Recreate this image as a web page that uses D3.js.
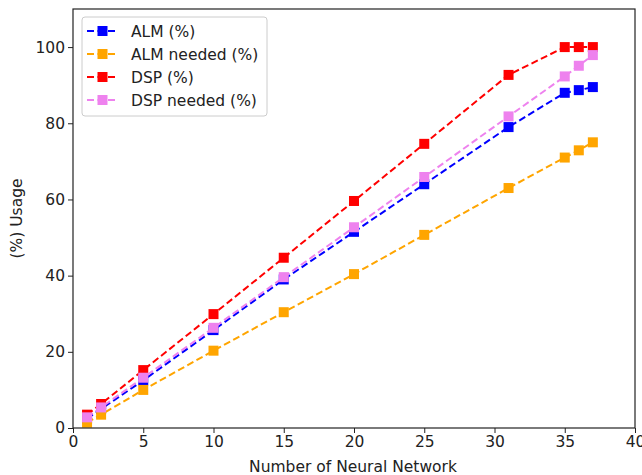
<!DOCTYPE html>
<html lang="en">
<head>
<meta charset="utf-8">
<title>Usage</title>
<script src="https://cdnjs.cloudflare.com/ajax/libs/d3/7.8.5/d3.min.js"></script>
<style>
  body { margin: 0; background: white; }
  svg { display: block; font-family: "DejaVu Sans", sans-serif; }
  .axis path, .axis line { stroke: #222; }
</style>
</head>
<body>
<script>
// data
var networks = [1, 2, 5, 10, 15, 20, 25, 31, 35, 36, 37];
var alm       = [2.5, 5, 12.5, 25.7, 39, 51.5, 64, 79, 88, 88.7, 89.5];
var almNeeded = [1.4, 3.5, 10, 20.3, 30.4, 40.4, 50.7, 63, 71, 72.9, 75];
var dsp       = [3.5, 6.3, 15.2, 29.9, 44.7, 59.6, 74.6, 92.7, 100, 100, 100];
var dspNeeded = [2.8, 5.4, 13.2, 26.3, 39.6, 52.7, 65.9, 81.8, 92.3, 95.1, 97.9];
var xTicks = [0, 5, 10, 15, 20, 25, 30, 35, 40];
var yTicks = [0, 20, 40, 60, 80, 100];

var series = [
  {name: "ALM (%)", values: alm, color: "blue"},
  {name: "ALM needed (%)", values: almNeeded, color: "orange"},
  {name: "DSP (%)", values: dsp, color: "red"},
  {name: "DSP needed (%)", values: dspNeeded, color: "violet"}
];

var fontSize = 15.5;
var fullWidth = 642, fullHeight = 475;
var margin = {top: 9, right: 7, bottom: 47, left: 73};
var width = fullWidth - margin.left - margin.right;
var height = fullHeight - margin.top - margin.bottom;

var svg = d3.select("body").append("svg")
  .attr("width", fullWidth)
  .attr("height", fullHeight);

var g = svg.append("g")
  .attr("transform", "translate(" + margin.left + "," + margin.top + ")");

var xScale = d3.scaleLinear().domain([0, 40]).range([0, width]);
var yScale = d3.scaleLinear().domain([0, 110]).range([height, 0]);

var line = d3.line()
  .x(function(d) { return xScale(d[0]); })
  .y(function(d) { return yScale(d[1]); });

series.forEach(function(s) {
  var pts = networks.map(function(n, i) { return [n, s.values[i]]; });
  g.append("path")
    .datum(pts)
    .attr("fill", "none")
    .attr("stroke", s.color)
    .attr("stroke-width", 2)
    .attr("stroke-dasharray", "7,3.5")
    .attr("d", line);
  g.selectAll(null)
    .data(pts)
    .enter()
    .append("rect")
    .attr("x", function(d) { return xScale(d[0]) - 5; })
    .attr("y", function(d) { return yScale(d[1]) - 5; })
    .attr("width", 10)
    .attr("height", 10)
    .attr("fill", s.color);
});

// frame
g.append("rect")
  .attr("width", width)
  .attr("height", height)
  .attr("fill", "none")
  .attr("stroke", "#222")
  .attr("stroke-width", 1.2);

g.append("g")
  .attr("class", "axis")
  .attr("transform", "translate(0," + height + ")")
  .call(d3.axisBottom(xScale).tickValues(xTicks).tickSize(5).tickPadding(3))
  .call(function(a) { a.select(".domain").remove(); });

g.append("g")
  .attr("class", "axis")
  .call(d3.axisLeft(yScale).tickValues(yTicks).tickSize(5).tickPadding(3))
  .call(function(a) { a.select(".domain").remove(); });

svg.selectAll(".axis text")
  .attr("font-family", "DejaVu Sans")
  .attr("font-size", fontSize)
  .attr("fill", "#222");

svg.append("text")
  .attr("x", margin.left + width / 2 - 1)
  .attr("y", 472)
  .attr("text-anchor", "middle")
  .attr("font-size", fontSize)
  .attr("fill", "#222")
  .text("Number of Neural Network");

svg.append("text")
  .attr("transform", "translate(22," + (margin.top + height / 2) + ") rotate(-90)")
  .attr("text-anchor", "middle")
  .attr("font-size", fontSize)
  .attr("fill", "#222")
  .text("(%) Usage");

// legend
var legend = svg.append("g").attr("transform", "translate(82,17)");
legend.append("rect")
  .attr("width", 185)
  .attr("height", 99)
  .attr("rx", 3)
  .attr("fill", "white")
  .attr("fill-opacity", 0.8)
  .attr("stroke", "#ccc");

var items = legend.selectAll(".item")
  .data(series)
  .enter()
  .append("g")
  .attr("transform", function(d, i) { return "translate(0," + (14 + i * 23) + ")"; });

items.append("line")
  .attr("x1", 5).attr("x2", 36)
  .attr("stroke", function(d) { return d.color; })
  .attr("stroke-width", 2)
  .attr("stroke-dasharray", "7,3.5");
items.append("rect")
  .attr("x", 15.5).attr("y", -5)
  .attr("width", 10).attr("height", 10)
  .attr("fill", function(d) { return d.color; });
items.append("text")
  .attr("x", 49)
  .attr("y", 5.5)
  .attr("font-size", fontSize)
  .attr("fill", "#222")
  .text(function(d) { return d.name; });
</script>
</body>
</html>
